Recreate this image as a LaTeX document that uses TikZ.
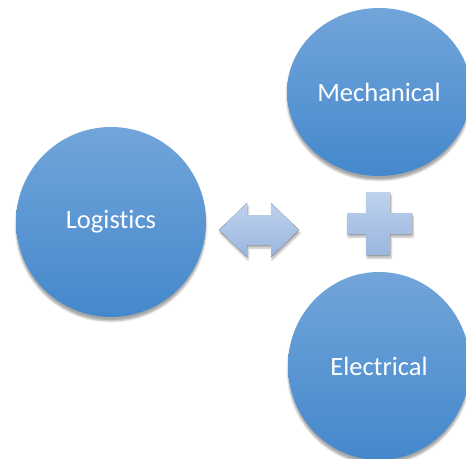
\documentclass[tikz,border=0pt]{standalone}
\usepackage{fontspec}
\setmainfont{Carlito}[Ligatures=NoCommon]
\usetikzlibrary{shapes.geometric,shadows.blur}

\definecolor{discTop}{RGB}{114,165,218}
\definecolor{discBottom}{RGB}{68,136,204}
\definecolor{signTop}{RGB}{189,210,237}
\definecolor{signBottom}{RGB}{154,182,222}

\begin{document}
\begin{tikzpicture}[x=1pt,y=-1pt,
  disc/.style={ellipse,top color=discTop,bottom color=discBottom,
    text=white,font=\fontsize{26.5}{30}\selectfont,
    blur shadow={shadow xshift=0pt,shadow yshift=-4pt,shadow opacity=35}},
  sign/.style={top color=signTop,bottom color=signBottom,
    blur shadow={shadow xshift=1pt,shadow yshift=-3pt,shadow opacity=30}}]
\useasboundingbox (0,0) rectangle (466,458);
\clip (0,0) rectangle (466,458);

% the three fields
\node[disc,minimum width=190pt,minimum height=190pt] (logistics) at (111,222) {Logistics};
\node[disc,minimum width=184pt,minimum height=168pt] (mechanical) at (379,92) {Mechanical};
\node[disc,minimum width=182pt,minimum height=188pt] (electrical) at (379,366) {Electrical};

% two-way arrow and plus sign
\fill[sign] (219,230) -- (247,203) -- (247,215) -- (271,215) -- (271,203) -- (299,230)
  -- (271,257) -- (271,245) -- (247,245) -- (247,257) -- cycle;
\fill[sign] (366,192) -- (390,192) -- (390,213) -- (412,213) -- (412,234) -- (390,234)
  -- (390,255) -- (366,255) -- (366,234) -- (347,234) -- (347,213) -- (366,213) -- cycle;
\end{tikzpicture}
\end{document}
